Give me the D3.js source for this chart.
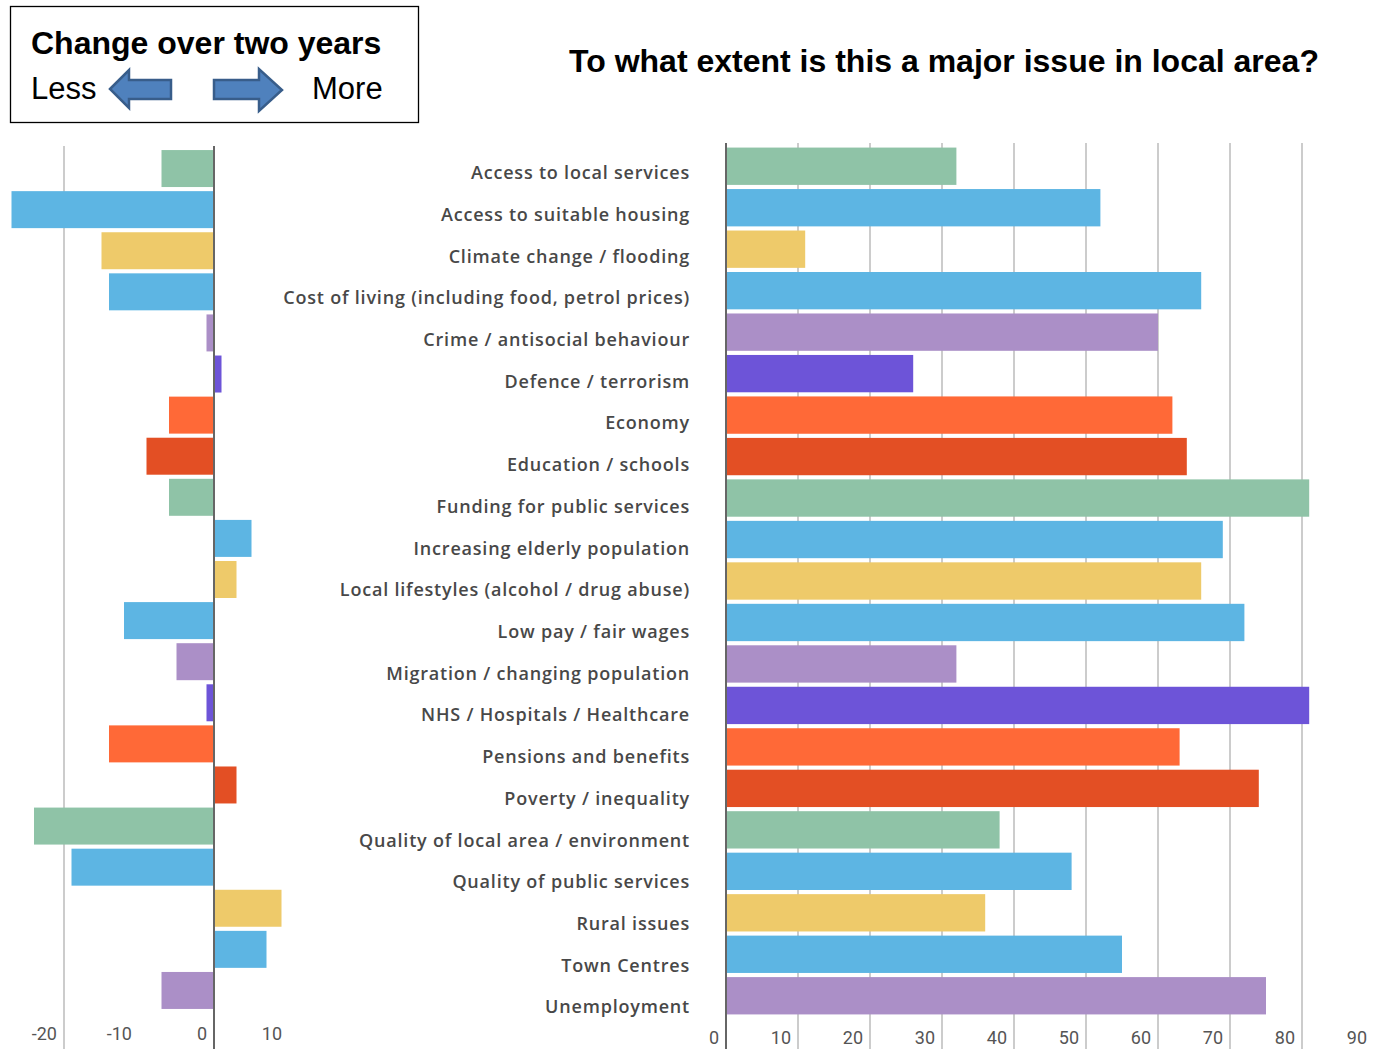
<!DOCTYPE html>
<html>
<head>
<meta charset="utf-8">
<script src="https://cdn.jsdelivr.net/npm/d3@7"></script>
<style>
  html, body { margin: 0; padding: 0; background: #fff; }
  svg { display: block; }
</style>
</head>
<body>
<svg id="chart" width="1373" height="1049"></svg>
<script>
const categories = [
  "Access to local services",
  "Access to suitable housing",
  "Climate change / flooding",
  "Cost of living (including food, petrol prices)",
  "Crime / antisocial behaviour",
  "Defence / terrorism",
  "Economy",
  "Education / schools",
  "Funding for public services",
  "Increasing elderly population",
  "Local lifestyles (alcohol / drug abuse)",
  "Low pay / fair wages",
  "Migration / changing population",
  "NHS / Hospitals / Healthcare",
  "Pensions and benefits",
  "Poverty / inequality",
  "Quality of local area / environment",
  "Quality of public services",
  "Rural issues",
  "Town Centres",
  "Unemployment"
];
const majorIssue = [32, 52, 11, 66, 60, 26, 62, 64, 81, 69, 66, 72, 32, 81, 63, 74, 38, 48, 36, 55, 75];
const changeTwoYears = [-7, -27, -15, -14, -1, 1, -6, -9, -6, 5, 3, -12, -5, -1, -14, 3, -24, -19, 9, 7, -7];
const barColors = [
  "#8fc3a7", "#5db5e3", "#eeca6a", "#5db5e3", "#ab8fc7", "#6d54d8", "#ff6937", "#e34f24",
  "#8fc3a7", "#5db5e3", "#eeca6a", "#5db5e3", "#ab8fc7", "#6d54d8", "#ff6937", "#e34f24",
  "#8fc3a7", "#5db5e3", "#eeca6a", "#5db5e3", "#ab8fc7"
];
const rightTicks = [0, 10, 20, 30, 40, 50, 60, 70, 80, 90];
const leftTicks = [-20, -10, 0, 10];
const titleText = "To what extent is this a major issue in local area?";
const legendTitle = "Change over two years";
const legendLess = "Less";
const legendMore = "More";

const svg = d3.select("#chart");

// ---------- Scales ----------
const xR = d3.scaleLinear().domain([0, 90]).range([726, 1374]);
const yR = d3.scaleBand().domain(categories).range([145.5, 1016.5]).paddingInner(0.1).paddingOuter(0.05);
const xL = d3.scaleLinear().domain([-28, 12]).range([4, 304]);
const yL = d3.scaleBand().domain(categories).range([148, 1011]).paddingInner(0.1).paddingOuter(0.05);
const yLab = d3.scaleBand().domain(categories).range([152, 1028]);

const chartTop = 143, chartBottom = 1049;

// ---------- Right chart ----------
const gR = svg.append("g");
gR.selectAll("line.grid").data(rightTicks.filter(d => d > 0)).join("line")
  .attr("class", "grid")
  .attr("x1", d => xR(d)).attr("x2", d => xR(d))
  .attr("y1", chartTop).attr("y2", chartBottom)
  .attr("stroke", "#cccccc").attr("stroke-width", 2);

gR.selectAll("rect").data(categories).join("rect")
  .attr("x", xR(0))
  .attr("y", d => yR(d))
  .attr("width", (d, i) => xR(majorIssue[i]) - xR(0))
  .attr("height", yR.bandwidth())
  .attr("fill", (d, i) => barColors[i]);

gR.append("line")
  .attr("x1", xR(0)).attr("x2", xR(0))
  .attr("y1", chartTop).attr("y2", chartBottom)
  .attr("stroke", "#666").attr("stroke-width", 2);

gR.selectAll("text.tick").data(rightTicks).join("text")
  .attr("class", "tick")
  .attr("x", d => xR(d) - 7)
  .attr("y", 1044)
  .attr("text-anchor", "end")
  .attr("font-family", "Roboto, 'Open Sans', sans-serif")
  .attr("font-size", 18)
  .attr("fill", "#555")
  .text(d => d);

// ---------- Category labels ----------
svg.append("g").selectAll("text").data(categories).join("text")
  .attr("x", 690)
  .attr("y", d => yLab(d) + yLab.bandwidth() / 2)
  .attr("dy", "0.35em")
  .attr("text-anchor", "end")
  .attr("font-family", "'Open Sans', 'Noto Sans', sans-serif")
  .attr("font-size", 18)
  .attr("font-weight", 600)
  .attr("letter-spacing", 0.8)
  .attr("fill", "#484848")
  .text(d => d);

// ---------- Left chart ----------
const gL = svg.append("g");
gL.append("line")
  .attr("x1", xL(-20)).attr("x2", xL(-20))
  .attr("y1", 146).attr("y2", chartBottom)
  .attr("stroke", "#cccccc").attr("stroke-width", 2);

gL.selectAll("rect").data(categories).join("rect")
  .attr("x", (d, i) => Math.min(xL(0), xL(changeTwoYears[i])))
  .attr("y", d => yL(d))
  .attr("width", (d, i) => Math.abs(xL(changeTwoYears[i]) - xL(0)))
  .attr("height", yL.bandwidth())
  .attr("fill", (d, i) => barColors[i]);

gL.append("line")
  .attr("x1", xL(0)).attr("x2", xL(0))
  .attr("y1", 146).attr("y2", chartBottom)
  .attr("stroke", "#666").attr("stroke-width", 2);

gL.selectAll("text.tick").data(leftTicks).join("text")
  .attr("class", "tick")
  .attr("x", d => xL(d) - 7)
  .attr("y", 1040)
  .attr("text-anchor", "end")
  .attr("font-family", "Roboto, 'Open Sans', sans-serif")
  .attr("font-size", 18)
  .attr("fill", "#555")
  .text(d => d);

// ---------- Title ----------
svg.append("text")
  .attr("x", 944).attr("y", 72)
  .attr("text-anchor", "middle")
  .attr("font-family", "'Liberation Sans', Arial, sans-serif")
  .attr("font-weight", "bold")
  .attr("font-size", 32)
  .attr("fill", "#000")
  .text(titleText);

// ---------- Legend box ----------
const gLeg = svg.append("g");
gLeg.append("rect")
  .attr("x", 10.5).attr("y", 6.5).attr("width", 408).attr("height", 116)
  .attr("fill", "#fff").attr("stroke", "#000").attr("stroke-width", 1.3);
gLeg.append("text")
  .attr("x", 31).attr("y", 54)
  .attr("font-family", "'Liberation Sans', Arial, sans-serif")
  .attr("font-weight", "bold").attr("font-size", 32)
  .text(legendTitle);
gLeg.append("text")
  .attr("x", 31).attr("y", 99)
  .attr("font-family", "'Liberation Sans', Arial, sans-serif")
  .attr("font-size", 31)
  .text(legendLess);
gLeg.append("text")
  .attr("x", 312).attr("y", 99)
  .attr("font-family", "'Liberation Sans', Arial, sans-serif")
  .attr("font-size", 31)
  .text(legendMore);
// arrows
gLeg.append("path")
  .attr("d", "M110,89 L129,70 L129,80 L171,80 L171,99 L129,99 L129,108 Z")
  .attr("fill", "#4f81bd").attr("stroke", "#385d8a").attr("stroke-width", 2.5).attr("stroke-linejoin", "miter");
gLeg.append("path")
  .attr("d", "M214,80 L259,80 L259,69 L282,90 L259,111 L259,99 L214,99 Z")
  .attr("fill", "#4f81bd").attr("stroke", "#385d8a").attr("stroke-width", 2.5).attr("stroke-linejoin", "miter");
</script>
</body>
</html>
